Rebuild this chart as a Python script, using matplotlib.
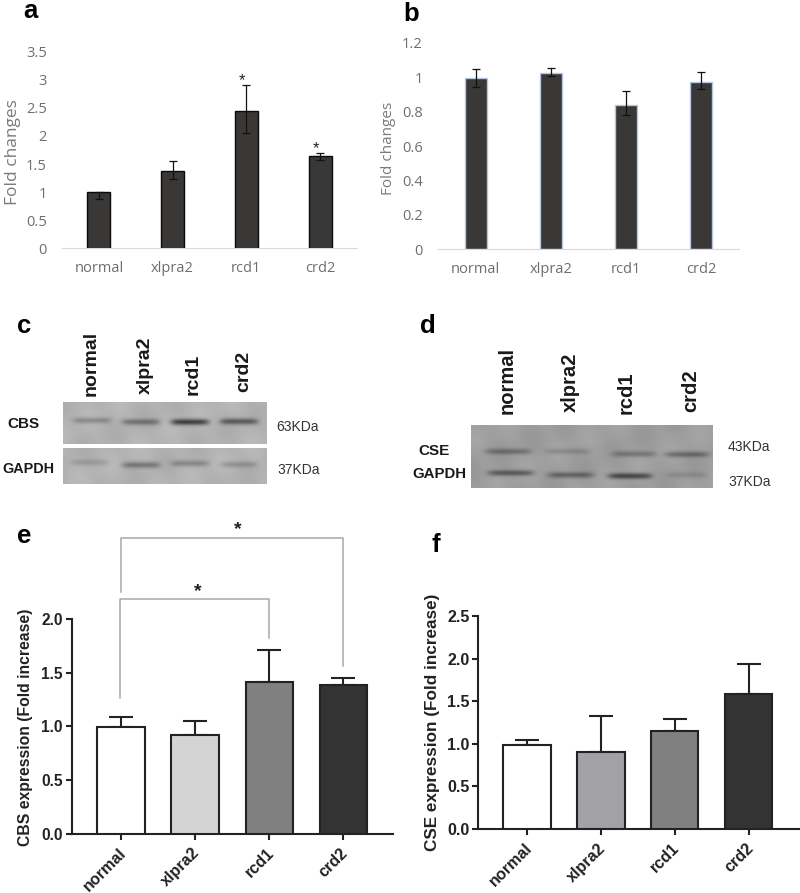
import numpy as np
import matplotlib
matplotlib.use('Agg')
import matplotlib.pyplot as plt
from matplotlib.transforms import ScaledTranslation

W, H = 800, 893
groups = ['normal', 'xlpra2', 'rcd1', 'crd2']

# panel a
a_mean = [1.0, 1.38, 2.44, 1.65]
a_hi = [1.0, 1.55, 2.90, 1.70]
a_lo = [0.87, 1.23, 2.06, 1.57]
a_ticks = ['0', '0.5', '1', '1.5', '2', '2.5', '3', '3.5']
a_tickvals = [0, 0.5, 1, 1.5, 2, 2.5, 3, 3.5]
a_stars = [(2, 2.98), (3, 1.78)]

# panel b
b_mean = [0.995, 1.026, 0.836, 0.972]
b_hi = [1.047, 1.055, 0.921, 1.03]
b_lo = [0.945, 1.006, 0.778, 0.929]
b_ticks = ['0', '0.2', '0.4', '0.6', '0.8', '1', '1.2']
b_tickvals = [0, 0.2, 0.4, 0.6, 0.8, 1.0, 1.2]

# panel e
e_mean = [0.994, 0.92, 1.416, 1.388]
e_hi = [1.084, 1.053, 1.708, 1.447]
e_colors = ['white', '#d4d4d4', '#808080', '#333333']
e_outer_x = [0, 0, 3, 3]
e_outer_y = [2.255, 2.752, 2.752, 1.562]
e_inner_x = [-0.02, -0.02, 2, 2]
e_inner_y = [1.261, 2.186, 2.186, 1.826]

# panel f
f_mean = [0.99, 0.90, 1.146, 1.58]
f_hi = [1.05, 1.322, 1.287, 1.933]
f_colors = ['white', '#a2a2a6', '#808080', '#333333']

# blot bands: lane x, y, half width, darkness (pixels of the figure)
c_top_bands = [(92, 421, 19, 0.28), (141, 422.5, 19, 0.40), (190, 422.5, 19, 0.75), (239, 422, 19, 0.55)]
c_low_bands = [(90, 463, 19, 0.16), (141, 465.5, 19, 0.38), (190, 464, 19, 0.28), (239, 465, 18, 0.22)]
d_bands = [(508, 451.5, 23, 0.30), (568, 451.5, 23, 0.16), (634, 454, 22, 0.26), (687, 454.5, 22, 0.34),
           (511, 473, 23, 0.44), (571, 475, 23, 0.36), (630, 476, 22, 0.56), (687, 475, 20, 0.12)]


def ax_px(l, t, r, b):
    return fig.add_axes([l / W, 1 - b / H, (r - l) / W, (b - t) / H])


def txt(x, y, s, **kw):
    fig.text(x / W, 1 - y / H, s, **kw)


def blot(l, t, r, b, bg, bands):
    ax = ax_px(l, t, r, b)
    xx, yy = np.meshgrid(np.arange(l, r) + 0.5, np.arange(t, b) + 0.5)
    img = bg + 0.015 * np.sin(xx / 17.0 + yy / 9.0) + 0.012 * np.sin(xx / 6.0 - yy / 13.0)
    for x0, y0, hw, dark in bands:
        img -= dark * np.exp(-((yy - y0) / 3.0) ** 2) * np.exp(-((xx - x0) / hw) ** 6) * 0.62
    ax.imshow(img, cmap='gray', vmin=0, vmax=1, aspect='auto', interpolation='bilinear')
    ax.axis('off')


def excel_panel(box, ylim, mean, hi, lo, ticks, tickvals, edge, width, pad, fs):
    ax = ax_px(*box)
    x = np.arange(4)
    ax.bar(x, mean, width=width, color='#3a3836', edgecolor=edge, linewidth=1.0)
    err = [np.array(mean) - np.array(lo), np.array(hi) - np.array(mean)]
    ax.errorbar(x, mean, yerr=err, fmt='none', ecolor='#111111', elinewidth=0.9, capsize=3, capthick=0.9)
    ax.set_xlim(-0.5, 3.5)
    ax.set_ylim(*ylim)
    ax.set_xticks(x, groups)
    ax.set_yticks(tickvals, ticks)
    ax.tick_params(length=0, labelcolor='#6e6e6e', labelsize=fs)
    ax.tick_params(axis='y', pad=pad)
    ax.tick_params(axis='x', pad=9)
    for lab in ax.get_xticklabels() + ax.get_yticklabels():
        lab.set_family('Open Sans')
    for s in ['top', 'left', 'right']:
        ax.spines[s].set_visible(False)
    ax.spines['bottom'].set_color('#d9d9d9')
    ax.patch.set_alpha(0)
    return ax


def prism_panel(box, xlim, ylim, yticks, mean, hi, colors, fs):
    ax = ax_px(*box)
    x = np.arange(4)
    ax.bar(x, mean, width=0.64, color=colors, edgecolor='#222222', linewidth=1.5, zorder=3)
    up = np.array(hi) - np.array(mean)
    ax.errorbar(x, mean, yerr=[np.zeros(4), up], fmt='none', ecolor='#222222', elinewidth=1.5,
                capsize=8.3, capthick=1.5, zorder=2)
    ax.set_xlim(*xlim)
    ax.set_ylim(*ylim)
    ax.set_xticks(x)
    ax.set_xticklabels(groups, rotation=45, ha='right', rotation_mode='anchor', fontweight='bold',
                       fontsize=11.6, color='#222222')
    ax.set_yticks(yticks, ['%.1f' % v for v in yticks], fontweight='bold', fontsize=fs, color='#222222')
    ax.tick_params(axis='x', length=4.3, width=1.5, color='#222222', pad=4)
    ax.tick_params(axis='y', length=4.3, width=1.5, color='#222222', pad=2)
    shift = ScaledTranslation(-3 / 100, 0, fig.dpi_scale_trans)
    for lab in ax.get_xticklabels():
        lab.set_transform(lab.get_transform() + shift)
    for s in ['top', 'right']:
        ax.spines[s].set_visible(False)
    for s in ['left', 'bottom']:
        ax.spines[s].set_linewidth(1.5)
        ax.spines[s].set_color('#222222')
    ax.patch.set_alpha(0)
    return ax


plt.rcParams['font.family'] = ['Liberation Sans', 'DejaVu Sans']
fig = plt.figure(figsize=(W / 100, H / 100), dpi=100)

# a, b
ax_a = excel_panel((62, 51.7, 357, 248.3), (0, 3.5), a_mean, a_hi, a_lo, a_ticks, a_tickvals,
                   '#0a0a0a', 0.315, 11, 10.5)
for sx, sy in a_stars:
    ax_a.text(sx - 0.06, sy, '*', ha='center', va='center', fontsize=12, color='#222222')
excel_panel((438, 42.7, 739, 249.3), (0, 1.2), b_mean, b_hi, b_lo, b_ticks, b_tickvals,
            '#b4c6e0', 0.29, 11, 10.5)
txt(13, 152, 'Fold changes', rotation=90, ha='center', va='center', fontsize=12.5, color='#7a7a7a', family='Open Sans')
txt(388, 148, 'Fold changes', rotation=90, ha='center', va='center', fontsize=11, color='#7a7a7a', family='Open Sans')

# c, d blots
blot(63, 402, 267, 444, 0.70, c_top_bands)
blot(63, 448, 267, 484, 0.70, c_low_bands)
blot(471, 425, 713, 488, 0.62, d_bands)

for xp, yp, s in [(90.7, 396, 'normal'), (145, 394, 'xlpra2'), (192.7, 395, 'rcd1'), (244, 392, 'crd2')]:
    txt(xp, yp, s, rotation=90, ha='center', va='bottom', fontsize=14, fontweight='bold', color='#1a1a1a')
for xp, yp, s in [(506.7, 414, 'normal'), (570, 412, 'xlpra2'), (626, 414, 'rcd1'), (690.7, 412, 'crd2')]:
    txt(xp, yp, s, rotation=90, ha='center', va='bottom', fontsize=14.5, fontweight='bold', color='#1a1a1a')
txt(7, 424, 'CBS', va='center', fontsize=11, fontweight='bold', color='#1a1a1a')
txt(2, 469, 'GAPDH', va='center', fontsize=10.4, fontweight='bold', color='#1a1a1a')
txt(276, 427, '63KDa', va='center', fontsize=10, color='#333333')
txt(277, 470, '37KDa', va='center', fontsize=10, color='#333333')
txt(418, 451, 'CSE', va='center', fontsize=11, fontweight='bold', color='#1a1a1a')
txt(412, 474, 'GAPDH', va='center', fontsize=10.8, fontweight='bold', color='#1a1a1a')
txt(728, 447, '43KDa', va='center', fontsize=10, color='#333333')
txt(728, 482, '37KDa', va='center', fontsize=10, color='#333333')

# e
ax_e = prism_panel((71.7, 619, 393, 833.7), (-0.665, 3.67), (0, 2), [0, 0.5, 1, 1.5, 2], e_mean, e_hi, e_colors, 11.2)
ax_e.plot(e_outer_x, e_outer_y, color='#a8a8a8', lw=1.1, clip_on=False)
ax_e.plot(e_inner_x, e_inner_y, color='#a8a8a8', lw=1.1, clip_on=False)
ax_e.text(1.57, 2.83, '*', ha='center', va='center', fontsize=14, fontweight='bold', color='#222222', clip_on=False)
ax_e.text(1.04, 2.255, '*', ha='center', va='center', fontsize=14, fontweight='bold', color='#222222', clip_on=False)
txt(26, 727, 'CBS expression (Fold increase)', rotation=90, ha='center', va='center', fontsize=11.3,
    fontweight='bold', color='#222222')

# f
prism_panel((478.3, 616, 799, 829), (-0.659, 3.68), (0, 2.5), [0, 0.5, 1, 1.5, 2, 2.5], f_mean, f_hi, f_colors, 11.5)
txt(433, 722, 'CSE expression (Fold increase)', rotation=90, ha='center', va='center', fontsize=12.3,
    fontweight='bold', color='#222222')

# panel letters
for xp, yp, s in [(23, 18, 'a'), (403, 21, 'b'), (17, 333, 'c'), (420, 333, 'd'), (17, 543, 'e'), (432, 552, 'f')]:
    txt(xp, yp, s, fontsize=18.5, fontweight='bold', va='baseline', color='black')

fig.savefig('out.png', dpi=100)
